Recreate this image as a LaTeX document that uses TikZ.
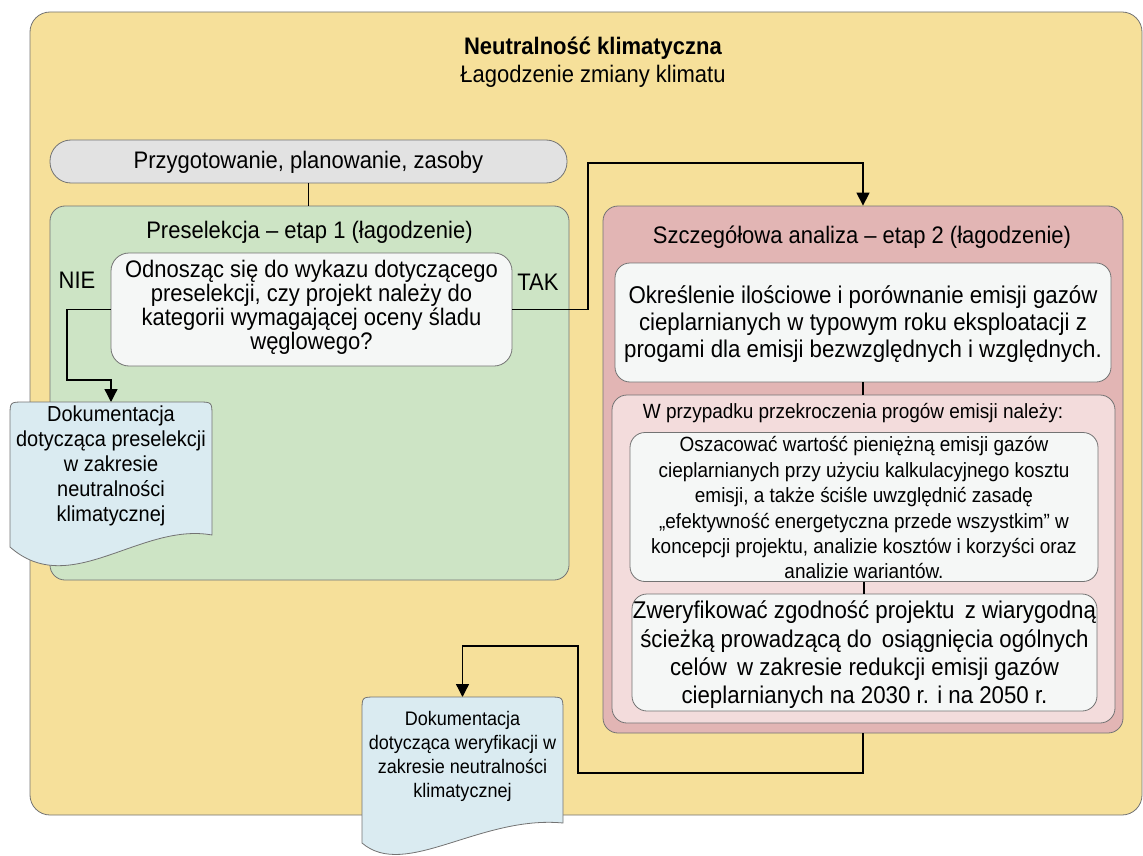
\documentclass[tikz,border=0pt]{standalone}
\usepackage{fontspec}
\setmainfont[FakeStretch=0.92]{Liberation Sans}
\usetikzlibrary{arrows.meta}
\definecolor{yel}{RGB}{246,224,154}
\definecolor{greyb}{RGB}{226,226,226}
\definecolor{grn}{RGB}{205,228,197}
\definecolor{redb}{RGB}{226,181,180}
\definecolor{pinkb}{RGB}{243,220,220}
\definecolor{wht}{RGB}{245,247,246}
\definecolor{docb}{RGB}{218,235,241}
\definecolor{edge}{RGB}{115,115,115}
\tikzset{
  box/.style={rectangle, draw=edge, line width=0.8pt, inner sep=0pt},
  conn/.style={draw=black, line width=1.3pt},
  arr/.style={conn, -{Triangle[length=13pt,width=13pt]}},
  docst/.style={draw=edge, line width=0.8pt, fill=docb},
  txt/.style={align=center, inner sep=0pt, text=black},
}
\newcommand{\fs}[2]{\fontsize{#1}{#2}\selectfont}
\begin{document}
\begin{tikzpicture}[x=1pt, y=-1pt]
\useasboundingbox (0,0) rectangle (1143,856);

% containers
\node[box, fill=yel, rounded corners=20, minimum width=1112, minimum height=803] (outer) at (586,413.5) {};
\node[box, fill=greyb, rounded corners=21, minimum width=517, minimum height=43] (pill) at (308.5,161.5) {};
\node[box, fill=grn, rounded corners=15, minimum width=519, minimum height=374] (green) at (309.5,393) {};
\node[box, fill=wht, rounded corners=18, minimum width=401, minimum height=113] (q) at (311.5,309.5) {};
\node[box, fill=redb, rounded corners=15, minimum width=520, minimum height=527] (red) at (863,469.5) {};
\node[box, fill=wht, rounded corners=15, minimum width=496, minimum height=119] (w2) at (863,322.5) {};
\node[box, fill=pinkb, rounded corners=15, minimum width=503, minimum height=328] (pink) at (863.5,559) {};
\node[box, fill=wht, rounded corners=15, minimum width=468, minimum height=149] (w3) at (864,507) {};
\node[box, fill=wht, rounded corners=15, minimum width=465, minimum height=117] (w4) at (864.5,652.5) {};

% connectors
\coordinate (doc1top) at (111,402);
\coordinate (doc2top) at (462.5,697);
\draw[conn] (pill.south) -- (pill.south |- green.north);
\draw[conn] (w2.south) -- (w2.south |- pink.north);
\draw[conn] (w3.south) -- (w3.south |- w4.north);
\draw[arr] (q.west) -- (67,309.5) -- (67,380) -- (111,380) -- (doc1top);
\draw[arr] (q.east) -- (588,309.5) -- (588,163) -- (863,163) -- (red.north);
\draw[arr] (red.south) -- (863,773) -- (578,773) -- (578,646) -- (462.5,646) -- (doc2top);

% documents
\filldraw[docst] (10,547) -- (10,416) .. controls (10,402) .. (24,402) -- (198,402) .. controls (212,402) .. (212,416) -- (212,535) .. controls (140,522) and (70,600) .. (10,547) -- cycle;
\filldraw[docst] (362,843) -- (362,711) .. controls (362,697) .. (376,697) -- (549,697) .. controls (563,697) .. (563,711) -- (563,823) .. controls (480,815) and (405,880) .. (362,843) -- cycle;

% texts
\node[txt, font=\fs{23.9}{28}] (title) at (593,62) {\textbf{Neutralność klimatyczna}\\Łagodzenie zmiany klimatu};
\node[txt, font=\fs{23.9}{24}] (pilltxt) at (308.5,162) {Przygotowanie, planowanie, zasoby};
\node[txt, font=\fs{23.9}{24}] (greentitle) at (309.5,232) {Preselekcja – etap 1 (łagodzenie)};
\node[txt, font=\fs{23.9}{24}] (qtxt) at (311.5,307) {Odnosząc się do wykazu dotyczącego\\preselekcji, czy projekt należy do\\kategorii wymagającej oceny śladu\\węglowego?};
\node[txt, font=\fs{23.9}{24}] (nie) at (77,280) {NIE};
\node[txt, font=\fs{23.9}{24}] (tak) at (538,282) {TAK};
\node[txt, font=\fs{23.9}{24}] (redtitle) at (862,237) {Szczegółowa analiza – etap 2 (łagodzenie)};
\node[txt, font=\fs{24.2}{26.7}] (w2txt) at (863,324) {Określenie ilościowe i porównanie emisji gazów\\cieplarnianych w typowym roku eksploatacji z\\progami dla emisji bezwzględnych i względnych.};
\node[txt, font=\fs{20.6}{24}] (pinktitle) at (853,413) {W przypadku przekroczenia progów emisji należy:};
\node[txt, font=\fs{20.6}{25.4}] (w3txt) at (864,508) {Oszacować wartość pieniężną emisji gazów\\cieplarnianych przy użyciu kalkulacyjnego kosztu\\emisji, a także ściśle uwzględnić zasadę\\„efektywność energetyczna przede wszystkim” w\\koncepcji projektu, analizie kosztów i korzyści oraz\\analizie wariantów.};
\node[txt, font=\fs{24.2}{28.3}] (w4txt) at (864.5,655) {Zweryfikować zgodność projektu\ \,z wiarygodną\\ścieżką prowadzącą do\ \,osiągnięcia ogólnych\\celów\ \,w zakresie redukcji emisji gazów\\cieplarnianych na 2030 r. i na 2050 r.};
\node[txt, font=\fs{21.7}{25}] (doc1txt) at (111,466) {Dokumentacja\\dotycząca preselekcji\\w zakresie\\neutralności\\klimatycznej};
\node[txt, font=\fs{19.6}{24}] (doc2txt) at (462.5,756) {Dokumentacja\\dotycząca weryfikacji w\\zakresie neutralności\\klimatycznej};
\end{tikzpicture}
\end{document}
